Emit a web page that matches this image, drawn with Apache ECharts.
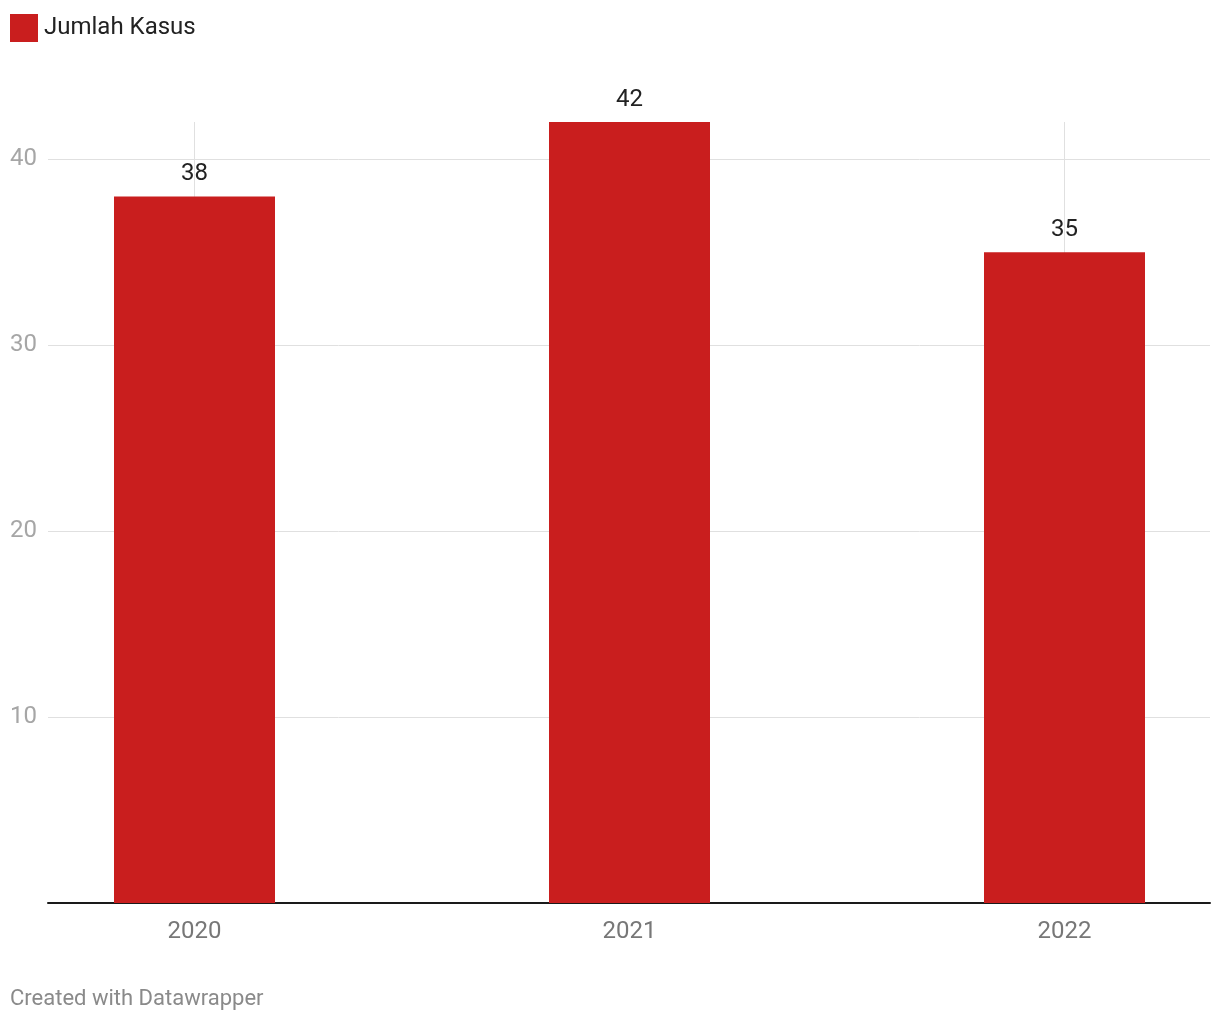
<!DOCTYPE html>
<html>
<head>
<meta charset="utf-8">
<script src="https://cdn.jsdelivr.net/npm/echarts@6/dist/echarts.min.js"></script>
<style>
html,body{margin:0;padding:0;background:#fff;}
#chart{width:1220px;height:1020px;}
</style>
</head>
<body>
<div id="chart"></div>
<script>
var years = ['2020', '2021', '2022'];
var kasus = [38, 42, 35];
var seriesName = 'Jumlah Kasus';
var yTicks = [10, 20, 30, 40];
var footerText = 'Created with Datawrapper';

var FONT = 'Roboto, "Noto Sans", sans-serif';
var chart = echarts.init(document.getElementById('chart'), null, {renderer: 'canvas'});
chart.setOption({
  animation: false,
  backgroundColor: '#ffffff',
  textStyle: {fontFamily: FONT},
  title: {
    text: footerText,
    left: 5,
    bottom: 5,
    textStyle: {fontFamily: FONT, fontSize: 22, fontWeight: 'normal', color: '#8a8a8a'}
  },
  legend: {
    left: 5,
    top: 9,
    itemWidth: 28,
    itemHeight: 28,
    icon: 'rect',
    textStyle: {fontFamily: FONT, fontSize: 24, color: '#222222', padding: [0, 0, 0, 1]},
    data: [seriesName]
  },
  grid: [
    {left: 48, right: 10, top: 122, bottom: 117},
    {left: 194.5, right: 155.5, top: 122, bottom: 117}
  ],
  xAxis: [
    {
      gridIndex: 0,
      type: 'category',
      data: years,
      axisLine: {show: true, lineStyle: {color: '#1a1a1a', width: 2}},
      axisTick: {show: false},
      axisLabel: {show: false},
      splitLine: {show: false}
    },
    {
      gridIndex: 1,
      type: 'category',
      boundaryGap: false,
      data: years,
      axisLine: {show: false},
      axisTick: {show: false},
      axisLabel: {show: true, color: '#777777', fontSize: 24, fontFamily: FONT, margin: 17},
      splitLine: {show: true, lineStyle: {color: '#e0e0e0', width: 1}}
    }
  ],
  yAxis: [
    {
      gridIndex: 0,
      type: 'value',
      min: 0,
      max: 42,
      interval: 10,
      axisLine: {show: false},
      axisTick: {show: false},
      axisLabel: {
        show: true,
        color: '#a6a6a6',
        fontSize: 24,
        fontFamily: FONT,
        margin: 11,
        padding: [4, 0, 0, 0],
        showMinLabel: false,
        showMaxLabel: false,
        formatter: function (v) { return yTicks.indexOf(v) >= 0 ? String(v) : ''; }
      },
      splitLine: {show: true, showMinLine: false, showMaxLine: false, lineStyle: {color: '#e0e0e0', width: 1}}
    },
    {
      gridIndex: 1,
      type: 'value',
      min: 0,
      max: 42,
      show: false,
      splitLine: {show: false}
    }
  ],
  series: [
    {
      name: seriesName,
      type: 'bar',
      xAxisIndex: 1,
      yAxisIndex: 1,
      data: kasus,
      barWidth: 161,
      itemStyle: {color: '#c91e1e'},
      label: {
        show: true,
        position: 'top',
        distance: 10,
        color: '#222222',
        fontSize: 24,
        fontFamily: FONT
      }
    }
  ]
});
</script>
</body>
</html>
